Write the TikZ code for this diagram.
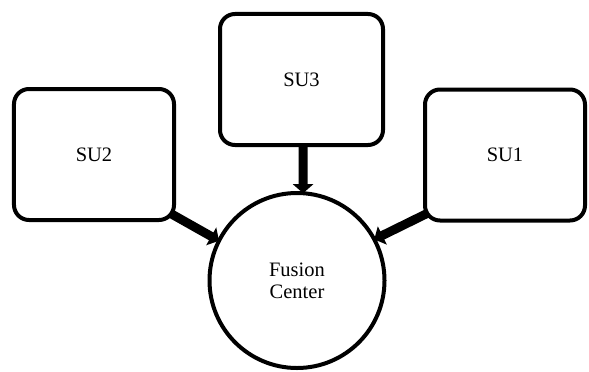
\documentclass[tikz,border=0pt]{standalone}
\usepackage{fontspec}
\setmainfont{Liberation Serif}
\usetikzlibrary{arrows.meta}
\pgfdeclarelayer{background}
\pgfsetlayers{background,main}
\begin{document}
\begin{tikzpicture}[x=1bp,y=1bp,
  su/.style={draw,line width=4bp,rounded corners=15bp,fill=white,outer sep=0pt,
    inner sep=0pt,font=\fontsize{20.5bp}{22bp}\selectfont},
  fcstyle/.style={draw,circle,line width=4bp,fill=white,outer sep=0pt,inner sep=0pt,
    minimum size=175bp,align=center,font=\fontsize{20.5bp}{22bp}\selectfont},
  arr/.style={line width=9bp,-{Triangle[length=9bp,width=20bp]}}]
\useasboundingbox (0,0) rectangle (589,371);
\node[su,minimum width=160bp,minimum height=131bp] (su2) at (94,216.5) {SU2};
\node[su,minimum width=163bp,minimum height=131bp] (su3) at (301.5,291.5) {SU3};
\node[su,minimum width=160bp,minimum height=131bp] (su1) at (505,216) {SU1};
\node[fcstyle] (fc) at (297,90.5) {Fusion\\Center};
\begin{pgfonlayer}{background}
\draw[arr] ([shift={(-6,8)}]su2.south east) -- (fc.153);
\draw[arr] ([xshift=1.5bp]su3.south) -- (fc.86);
\draw[arr] ([shift={(4,8)}]su1.south west) -- (fc.28);
\end{pgfonlayer}
\end{tikzpicture}
\end{document}
